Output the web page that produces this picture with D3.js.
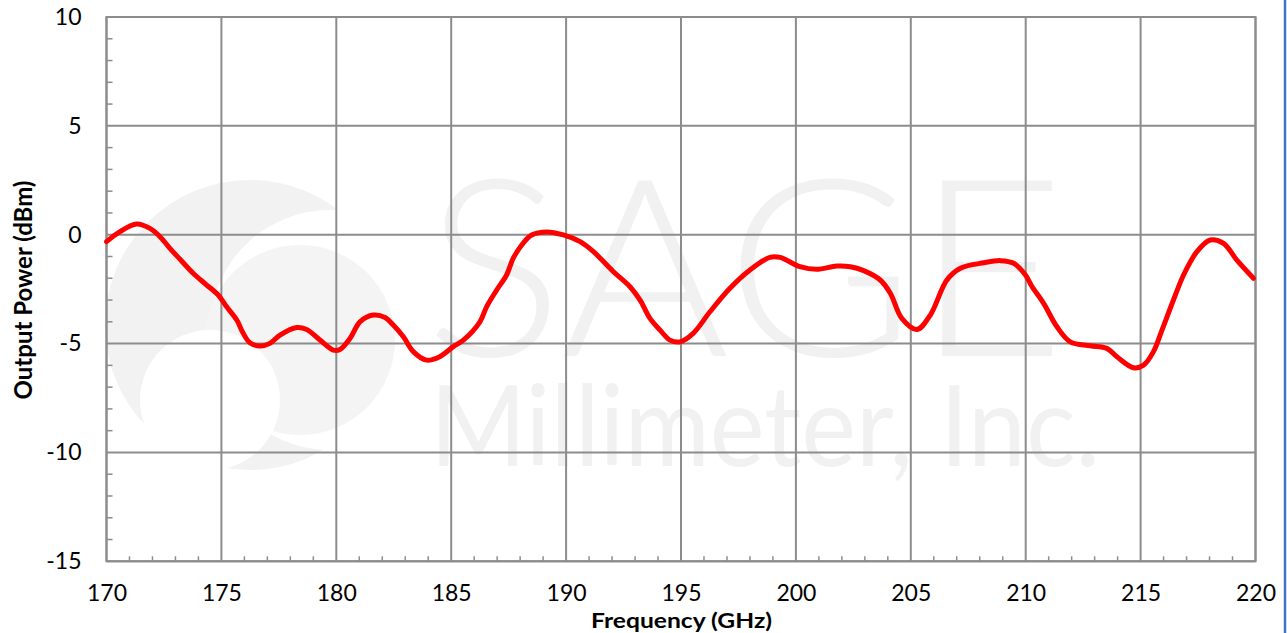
<!DOCTYPE html>
<html>
<head>
<meta charset="utf-8">
<script src="https://cdn.jsdelivr.net/npm/d3@7"></script>
<style>
  html, body { margin: 0; padding: 0; background: #fff; }
  svg { display: block; }
  text { font-family: Lato, "Open Sans", sans-serif; }
</style>
</head>
<body>
<div id="chart"></div>
<script>
const freqGHz = [170.0,170.59,171.31,171.89,172.33,172.76,173.2,173.78,174.36,174.86,175.23,175.67,175.95,176.24,176.68,177.11,177.55,178.28,178.71,179.29,179.87,180.16,180.6,181.03,181.61,182.12,182.48,182.92,183.35,183.93,184.5,185.09,185.53,186.25,186.54,186.98,187.41,187.7,188.07,188.5,189.16,189.88,190.61,191.19,192.06,192.78,193.22,193.65,194.09,194.52,194.96,195.53,196.26,197.13,198.0,198.87,199.31,200.18,200.9,201.78,202.37,202.95,203.67,204.11,204.61,205.27,205.85,206.57,207.16,208.17,208.9,209.48,209.99,210.28,210.78,211.36,211.94,212.81,213.53,213.97,214.69,215.13,215.56,215.93,216.43,216.87,217.45,218.03,218.61,219.19,219.91];
const outputPowerDbm = [-0.32,0.14,0.49,0.29,-0.09,-0.63,-1.13,-1.78,-2.31,-2.77,-3.31,-3.92,-4.53,-4.96,-5.11,-4.99,-4.61,-4.26,-4.35,-4.84,-5.3,-5.27,-4.76,-4.0,-3.69,-3.8,-4.15,-4.69,-5.37,-5.76,-5.6,-5.14,-4.84,-4.0,-3.31,-2.54,-1.85,-1.08,-0.47,-0.01,0.13,-0.01,-0.32,-0.78,-1.7,-2.39,-3.0,-3.84,-4.38,-4.84,-4.92,-4.53,-3.54,-2.46,-1.62,-1.04,-1.04,-1.47,-1.59,-1.44,-1.47,-1.65,-2.08,-2.69,-3.84,-4.35,-3.69,-2.08,-1.54,-1.29,-1.19,-1.31,-1.85,-2.39,-3.15,-4.23,-4.92,-5.1,-5.22,-5.61,-6.11,-5.99,-5.37,-4.38,-3.0,-1.85,-0.78,-0.24,-0.4,-1.17,-2.0];
const xTicks = [170,175,180,185,190,195,200,205,210,215,220];
const yTicks = [10,5,0,-5,-10,-15];
const xTitle = "Frequency (GHz)";
const yTitle = "Output Power (dBm)";
const watermark = ["SAGE", "Millimeter, Inc."];

const W = 1287, H = 633;
const L = 106.5, R = 1255.5, T = 17, B = 561.3;
const grid = "#8c8c8c";
const FONT = "Lato, 'Open Sans', sans-serif";

const svg = d3.select("#chart").append("svg").attr("width", W).attr("height", H);

const x = d3.scaleLinear().domain([170, 220]).range([L, R]);
const y = d3.scaleLinear().domain([-15, 10]).range([B, T]);

// watermark
const wm = svg.append("g").attr("fill", "#f2f2f2");
wm.append("circle").attr("cx", 250).attr("cy", 325).attr("r", 145).attr("fill", "#f2f2f2");
wm.append("circle").attr("cx", 330).attr("cy", 330).attr("r", 120).attr("fill", "#fff");
wm.append("circle").attr("cx", 300).attr("cy", 340).attr("r", 95).attr("fill", "#f4f4f4");
wm.append("circle").attr("cx", 210).attr("cy", 400).attr("r", 70).attr("fill", "#fff");
const wmText = wm.append("text").attr("fill", "#f1f1f1");
wmText.append("tspan").attr("x", 425).attr("y", 356).attr("font-size", 248).attr("font-weight", 300)
  .attr("textLength", 640).attr("lengthAdjust", "spacingAndGlyphs").text(watermark[0]);
wmText.append("tspan").attr("x", 430).attr("y", 466).attr("font-size", 112).attr("font-weight", 400)
  .attr("textLength", 670).attr("lengthAdjust", "spacingAndGlyphs").text(watermark[1]);

// gridlines
svg.append("g").selectAll("line").data(xTicks).join("line")
  .attr("x1", d => x(d)).attr("x2", d => x(d)).attr("y1", T).attr("y2", B)
  .attr("stroke", grid).attr("stroke-width", 2);
svg.append("g").selectAll("line").data(yTicks).join("line")
  .attr("x1", L).attr("x2", R).attr("y1", d => y(d)).attr("y2", d => y(d))
  .attr("stroke", grid).attr("stroke-width", 2);

// minor ticks
const xMinor = d3.range(171, 220, 1).filter(d => d % 5 !== 0);
svg.append("g").selectAll("line").data(xMinor).join("line")
  .attr("x1", d => x(d)).attr("x2", d => x(d)).attr("y1", B).attr("y2", B - 5)
  .attr("stroke", grid).attr("stroke-width", 1.5);
const yMinor = d3.range(-14, 10, 1).filter(d => d % 5 !== 0);
svg.append("g").selectAll("line").data(yMinor).join("line")
  .attr("x1", L).attr("x2", L + 6).attr("y1", d => y(d)).attr("y2", d => y(d))
  .attr("stroke", grid).attr("stroke-width", 1.5);

// frame
svg.append("rect").attr("x", L).attr("y", T).attr("width", R - L).attr("height", B - T)
  .attr("fill", "none").attr("stroke", grid).attr("stroke-width", 2);

// axes labels via d3 axis
const fmt = d => String(d);
const xAxis = svg.append("g").attr("transform", `translate(0,${B})`)
  .call(d3.axisBottom(x).tickValues(xTicks).tickSize(0).tickPadding(23).tickFormat(fmt));
xAxis.select(".domain").remove();
xAxis.selectAll("text").attr("font-size", 23).attr("fill", "#000").style("font-family", FONT);

const yAxis = svg.append("g").attr("transform", `translate(${L},0)`)
  .call(d3.axisLeft(y).tickValues(yTicks).tickSize(0).tickPadding(25).tickFormat(fmt));
yAxis.select(".domain").remove();
yAxis.selectAll("text").attr("font-size", 23).attr("fill", "#000").style("font-family", FONT);

// titles
svg.append("text").attr("x", 591).attr("y", 628)
  .attr("font-size", 21).attr("font-weight", 700)
  .attr("textLength", 181).attr("lengthAdjust", "spacingAndGlyphs").text(xTitle);
svg.append("text").attr("transform", "translate(32,290) rotate(-90)").attr("text-anchor", "middle")
  .attr("font-size", 24).attr("font-weight", 700).text(yTitle);

// data line
const data = freqGHz.map((f, i) => [f, outputPowerDbm[i]]);
svg.append("path").datum(data)
  .attr("d", d3.line().x(d => x(d[0])).y(d => y(d[1])).curve(d3.curveCatmullRom.alpha(0.5)))
  .attr("fill", "none").attr("stroke", "#ff0000").attr("stroke-width", 5)
  .attr("stroke-linejoin", "round").attr("stroke-linecap", "round");

// right border line
svg.append("line").attr("x1", 1285).attr("x2", 1285).attr("y1", 0).attr("y2", H)
  .attr("stroke", "#4472c4").attr("stroke-width", 2.5);
</script>
</body>
</html>
